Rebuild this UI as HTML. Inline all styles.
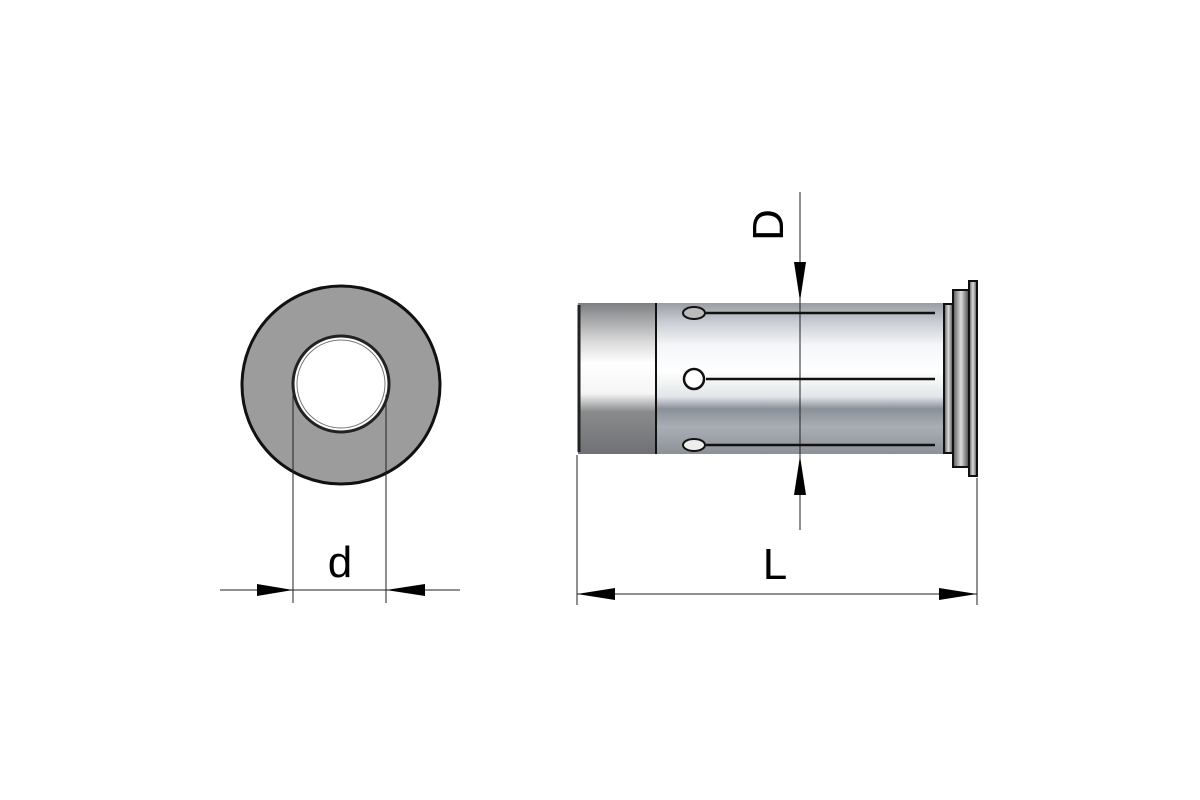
<!DOCTYPE html>
<html><head><meta charset="utf-8"><style>html,body{margin:0;padding:0;background:#fff}svg{display:block}</style></head>
<body>
<svg width="1200" height="800" viewBox="0 0 1200 800" xmlns="http://www.w3.org/2000/svg">
<defs>
<linearGradient id="body" x1="0" y1="0" x2="0" y2="1">
<stop offset="0" stop-color="#9a9ea4"/>
<stop offset="0.12" stop-color="#c8ccd2"/>
<stop offset="0.28" stop-color="#f4f6f8"/>
<stop offset="0.45" stop-color="#ffffff"/>
<stop offset="0.62" stop-color="#e2e6ea"/>
<stop offset="0.7" stop-color="#8a9098"/>
<stop offset="0.82" stop-color="#a8aeb4"/>
<stop offset="1" stop-color="#8d9299"/>
</linearGradient>
<linearGradient id="cap" x1="0" y1="0" x2="0" y2="1">
<stop offset="0" stop-color="#7d7f82"/>
<stop offset="0.25" stop-color="#d8d8d8"/>
<stop offset="0.4" stop-color="#ffffff"/>
<stop offset="0.6" stop-color="#f5f5f5"/>
<stop offset="0.72" stop-color="#8a8b8d"/>
<stop offset="1" stop-color="#6f7174"/>
</linearGradient>
<linearGradient id="fl" x1="0" y1="0" x2="1" y2="0">
<stop offset="0" stop-color="#555"/>
<stop offset="0.5" stop-color="#ddd"/>
<stop offset="1" stop-color="#444"/>
</linearGradient>
</defs>
<!-- ring -->
<circle cx="341" cy="385" r="99" fill="#9c9c9c" stroke="#111" stroke-width="3"/>
<circle cx="341" cy="384" r="48" fill="#fff" stroke="#222" stroke-width="3"/>
<circle cx="341" cy="384" r="44" fill="none" stroke="#777" stroke-width="1"/>
<!-- d dimension -->
<g stroke="#222" stroke-width="1" fill="none">
<line x1="293" y1="395" x2="293" y2="603"/>
<line x1="386" y1="395" x2="386" y2="603"/>
<line x1="220" y1="590" x2="460" y2="590"/>
<line x1="577" y1="455" x2="577" y2="605"/>
<line x1="977" y1="478" x2="977" y2="605"/>
<line x1="577" y1="594" x2="977" y2="594"/>
<line x1="800" y1="192" x2="800" y2="530"/>
</g>
<g fill="#000">
<polygon points="293,590 257,584 257,596"/>
<polygon points="386,590 425,584 425,596"/>
<polygon points="577,594 615,588 615,600"/>
<polygon points="977,594 939,588 939,600"/>
<polygon points="800,301 794,262 806,262"/>
<polygon points="800,456 794,495 806,495"/>
</g>
<!-- body -->
<rect x="656" y="303" width="289" height="151" fill="url(#body)"/>
<rect x="578" y="303" width="78" height="151" fill="url(#cap)"/>
<line x1="579" y1="305" x2="579" y2="452" stroke="#222" stroke-width="3"/>
<line x1="656" y1="303" x2="656" y2="454" stroke="#111" stroke-width="2"/>
<line x1="800" y1="300" x2="800" y2="456" stroke="#222" stroke-width="1"/>
<!-- flange -->
<rect x="944" y="304" width="9" height="149" fill="url(#fl)" stroke="#111" stroke-width="2"/>
<rect x="953" y="290" width="16" height="177" fill="url(#fl)" stroke="#111" stroke-width="2"/>
<rect x="969" y="281" width="8" height="195" fill="url(#fl)" stroke="#111" stroke-width="2"/>
<!-- slots -->
<g stroke="#111" stroke-width="2.5">
<line x1="706" y1="313" x2="935" y2="313"/>
<line x1="706" y1="379" x2="935" y2="379"/>
<line x1="706" y1="445" x2="935" y2="445"/>
</g>
<ellipse cx="694" cy="313" rx="11" ry="6" fill="#bbb" stroke="#111" stroke-width="2"/>
<circle cx="694" cy="379" r="10" fill="#fff" stroke="#111" stroke-width="2.5"/>
<ellipse cx="694" cy="445" rx="11" ry="6" fill="#eee" stroke="#111" stroke-width="2"/>
<!-- labels -->
<text x="340" y="577" font-family="Liberation Sans, sans-serif" font-size="44" text-anchor="middle" fill="#000">d</text>
<text x="775" y="579" font-family="Liberation Sans, sans-serif" font-size="44" text-anchor="middle" fill="#000">L</text>
<text transform="translate(783,225) rotate(-90)" font-family="Liberation Sans, sans-serif" font-size="44" text-anchor="middle" fill="#000">D</text>
</svg>
</body></html>
